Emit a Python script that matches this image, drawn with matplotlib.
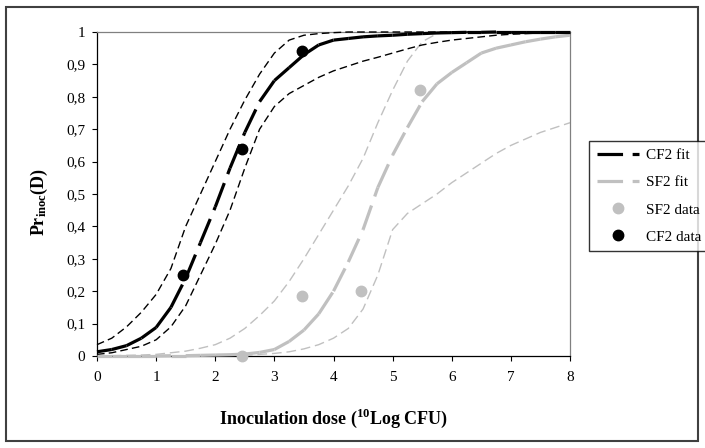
import numpy as np
import matplotlib
matplotlib.use("Agg")
import matplotlib.pyplot as plt
from matplotlib.collections import LineCollection
from matplotlib.lines import Line2D
from matplotlib.patches import Rectangle

plt.rcParams['font.family'] = 'Liberation Serif'
plt.rcParams['mathtext.fontset'] = 'custom'
plt.rcParams['mathtext.rm'] = 'Liberation Serif'
plt.rcParams['mathtext.bf'] = 'Liberation Serif:bold'

# dose grid of the fitted curves (10log CFU)
dose = [0, 0.25, 0.5, 0.75, 1, 1.25, 1.5, 1.75, 2, 2.25, 2.5, 2.75, 3, 3.25, 3.5, 3.75,
        4, 4.25, 4.5, 4.75, 5, 5.25, 5.5, 5.75, 6, 6.25, 6.5, 6.75, 7, 7.25, 7.5, 7.75, 8]

cf2_fit = [0.013, 0.02, 0.032, 0.055, 0.088, 0.15, 0.24, 0.35, 0.46, 0.58, 0.69, 0.785, 0.85,
           0.89, 0.93, 0.96, 0.975, 0.98, 0.985, 0.988, 0.99, 0.993, 0.995, 0.997, 0.998,
           0.999, 0.999, 1, 1, 1, 1, 1, 1]
cf2_upper = [0.035, 0.055, 0.09, 0.135, 0.19, 0.27, 0.40, 0.50, 0.60, 0.70, 0.79, 0.87, 0.935,
             0.975, 0.99, 0.995, 0.998, 1, 1, 1, 1, 1, 1, 1, 1, 1, 1, 1, 1, 1, 1, 1, 1]
cf2_lower = [0.005, 0.01, 0.02, 0.03, 0.05, 0.09, 0.155, 0.25, 0.345, 0.45, 0.58, 0.70, 0.77,
             0.81, 0.835, 0.86, 0.88, 0.895, 0.91, 0.922, 0.935, 0.948, 0.96, 0.968, 0.975,
             0.98, 0.985, 0.99, 0.993, 0.995, 0.997, 0.998, 1.0]

sf2_fit = [0, 0, 0, 0, 0, 0.001, 0.001, 0.002, 0.003, 0.004, 0.006, 0.011, 0.02, 0.045, 0.08,
           0.13, 0.20, 0.29, 0.39, 0.52, 0.62, 0.705, 0.785, 0.84, 0.875, 0.905, 0.935, 0.95,
           0.96, 0.97, 0.978, 0.985, 0.99]
sf2_upper = [0, 0.001, 0.002, 0.003, 0.005, 0.01, 0.015, 0.024, 0.035, 0.055, 0.085, 0.125,
             0.17, 0.23, 0.30, 0.375, 0.45, 0.525, 0.61, 0.72, 0.82, 0.91, 0.97, 0.995, 1,
             1, 1, 1, 1, 1, 1, 1, 1]
sf2_lower = [0, 0, 0, 0, 0, 0, 0, 0, 0.001, 0.002, 0.003, 0.005, 0.008, 0.013, 0.022, 0.035,
             0.055, 0.085, 0.145, 0.25, 0.39, 0.44, 0.47, 0.50, 0.535, 0.565, 0.595, 0.625,
             0.65, 0.67, 0.69, 0.705, 0.72]

# observed fractions
cf2_dose = [1.46, 2.46, 3.46]
cf2_obs = [0.25, 0.64, 0.94]
sf2_dose = [2.46, 3.46, 4.46, 5.46]
sf2_obs = [0.0, 0.185, 0.20, 0.82]

yticks = [0, 0.1, 0.2, 0.3, 0.4, 0.5, 0.6, 0.7, 0.8, 0.9, 1]
ytick_labels = ['0', '0,1', '0,2', '0,3', '0,4', '0,5', '0,6', '0,7', '0,8', '0,9', '1']
xticks = [0, 1, 2, 3, 4, 5, 6, 7, 8]

GRAY = '#c0c0c0'
FIT_DASH = (0, (8, 3))


def segment_line(x, y, **kw):
    # one collection item per segment, so the dash pattern restarts (excel look)
    pts = np.column_stack([x, y])
    segs = np.stack([pts[:-1], pts[1:]], axis=1)
    return LineCollection(segs, **kw)


fig = plt.figure(figsize=(7.05, 4.48), dpi=100)
ax = fig.add_axes([97 / 705, 1 - 356 / 448, 473 / 705, 324 / 448])

# confidence bands
ax.plot(dose, sf2_upper, color=GRAY, lw=1.0, ls=(0, (7, 3.5)), clip_on=False, zorder=2)
ax.plot(dose, sf2_lower, color=GRAY, lw=1.0, ls=(0, (7, 3.5)), clip_on=False, zorder=2)
ax.plot(dose, cf2_upper, color='black', lw=1.0, ls=(0, (5.5, 3)), clip_on=False, zorder=3)
ax.plot(dose, cf2_lower, color='black', lw=1.0, ls=(0, (5.5, 3)), clip_on=False, zorder=3)

# fits
ax.add_collection(segment_line(dose, sf2_fit, colors=GRAY, linewidths=2.3,
                               linestyles=[FIT_DASH], capstyle='butt', clip_on=False, zorder=4))
ax.add_collection(segment_line(dose, cf2_fit, colors='black', linewidths=2.3,
                               linestyles=[FIT_DASH], capstyle='butt', clip_on=False, zorder=5))

# data
ax.plot(sf2_dose, sf2_obs, 'o', color=GRAY, ms=7.5, mec=GRAY, clip_on=False, zorder=6)
ax.plot(cf2_dose, cf2_obs, 'o', color='black', ms=7.5, clip_on=False, zorder=6)

ax.set_xlim(0, 8)
ax.set_ylim(0, 1)
ax.set_xticks(xticks)
ax.set_xticklabels([str(t) for t in xticks], fontsize=11)
ax.set_yticks(yticks)
ax.set_yticklabels(ytick_labels, fontsize=11)
ax.tick_params(direction='out', length=3.6, width=0.8, color='black', pad=5)
ax.tick_params(axis='x', pad=7)

for side in ['top', 'right']:
    ax.spines[side].set_color('#808080')
    ax.spines[side].set_linewidth(0.9)
for side in ['left', 'bottom']:
    ax.spines[side].set_color('black')
    ax.spines[side].set_linewidth(0.9)

ax.set_xlabel(r'Inoculation dose ($^{\mathbf{10}}$Log CFU)', fontsize=13, fontweight='bold')
ax.xaxis.set_label_coords(0.5, -0.158)
ax.set_ylabel(r'$\mathbf{Pr_{inoc}(D)}$', fontsize=13)
ax.yaxis.set_label_coords(-0.1, 0.475)

handles = [
    Line2D([], [], color='black', lw=2.3, ls=FIT_DASH, dash_capstyle='butt'),
    Line2D([], [], color=GRAY, lw=2.3, ls=FIT_DASH, dash_capstyle='butt'),
    Line2D([], [], ls='none', marker='o', color=GRAY, ms=7.5),
    Line2D([], [], ls='none', marker='o', color='black', ms=7.5),
]
labels = ['CF2 fit', 'SF2 fit', 'SF2 data', 'CF2 data']
leg = fig.legend(handles, labels, loc='upper left', bbox_to_anchor=(589 / 705, 1 - 141 / 448),
                 fontsize=11, frameon=True, fancybox=False, handlelength=2.8,
                 handletextpad=0.4, labelspacing=0.88, borderpad=0.5, borderaxespad=0)
leg.get_frame().set_edgecolor('black')
leg.get_frame().set_linewidth(1.0)
leg.set_zorder(10)

# outer chart frame
fig.patches.append(Rectangle((6 / 705, 7 / 448), 692 / 705, 434 / 448, transform=fig.transFigure,
                             fill=False, edgecolor='#404040', lw=1.5, zorder=0))

fig.savefig('out.png', dpi=100)
